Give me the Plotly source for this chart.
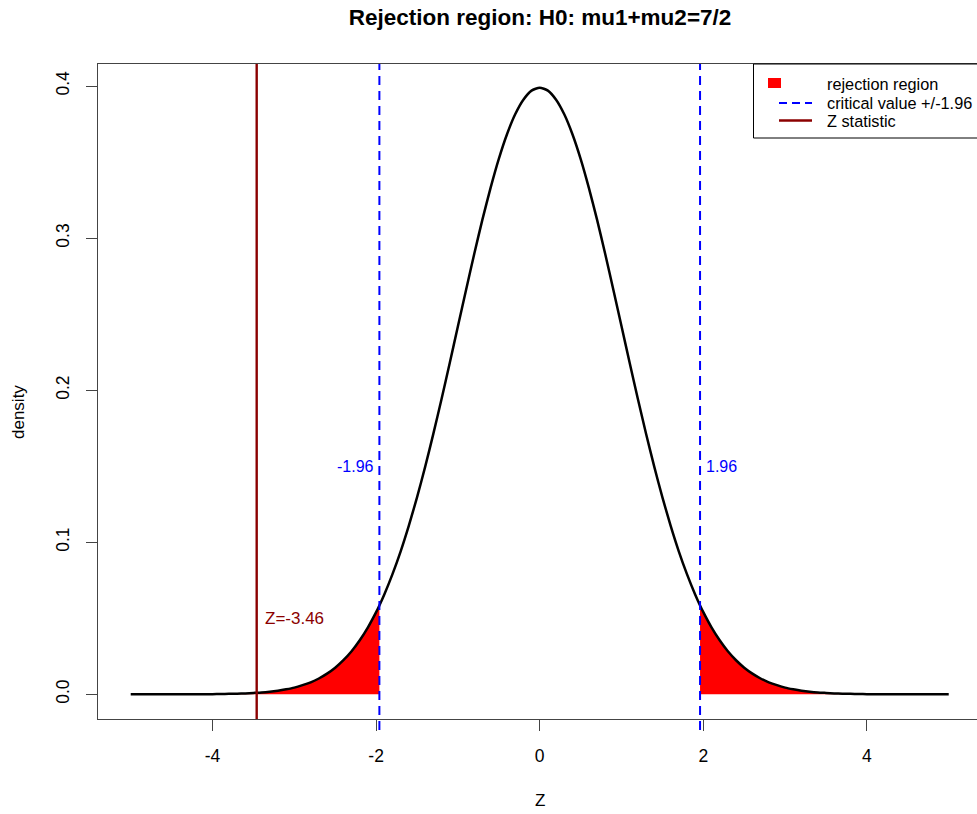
import plotly.graph_objects as go

# ---- data ----
z_grid = [-5.0, -4.9, -4.8, -4.7, -4.6, -4.5, -4.4, -4.3, -4.2, -4.1,
          -4.0, -3.9, -3.8, -3.7, -3.6, -3.5, -3.4, -3.3, -3.2, -3.1,
          -3.0, -2.9, -2.8, -2.7, -2.6, -2.5, -2.4, -2.3, -2.2, -2.1,
          -2.0, -1.96, -1.9, -1.8, -1.7, -1.6, -1.5, -1.4, -1.3, -1.2, -1.1,
          -1.0, -0.9, -0.8, -0.7, -0.6, -0.5, -0.4, -0.3, -0.2, -0.1,
          0.0,
          0.1, 0.2, 0.3, 0.4, 0.5, 0.6, 0.7, 0.8, 0.9, 1.0,
          1.1, 1.2, 1.3, 1.4, 1.5, 1.6, 1.7, 1.8, 1.9, 1.96, 2.0,
          2.1, 2.2, 2.3, 2.4, 2.5, 2.6, 2.7, 2.8, 2.9, 3.0,
          3.1, 3.2, 3.3, 3.4, 3.5, 3.6, 3.7, 3.8, 3.9, 4.0,
          4.1, 4.2, 4.3, 4.4, 4.5, 4.6, 4.7, 4.8, 4.9, 5.0]
density = [0.0000, 0.0000, 0.0000, 0.0000, 0.0000, 0.0000, 0.0000, 0.0000, 0.0001, 0.0001,
           0.0001, 0.0002, 0.0003, 0.0004, 0.0006, 0.0009, 0.0012, 0.0017, 0.0024, 0.0033,
           0.0044, 0.0060, 0.0079, 0.0104, 0.0136, 0.0175, 0.0224, 0.0283, 0.0355, 0.0440,
           0.0540, 0.0584, 0.0656, 0.0790, 0.0940, 0.1109, 0.1295, 0.1497, 0.1714, 0.1942, 0.2179,
           0.2420, 0.2661, 0.2897, 0.3123, 0.3332, 0.3521, 0.3683, 0.3814, 0.3910, 0.3970,
           0.3989,
           0.3970, 0.3910, 0.3814, 0.3683, 0.3521, 0.3332, 0.3123, 0.2897, 0.2661, 0.2420,
           0.2179, 0.1942, 0.1714, 0.1497, 0.1295, 0.1109, 0.0940, 0.0790, 0.0656, 0.0584, 0.0540,
           0.0440, 0.0355, 0.0283, 0.0224, 0.0175, 0.0136, 0.0104, 0.0079, 0.0060, 0.0044,
           0.0033, 0.0024, 0.0017, 0.0012, 0.0009, 0.0006, 0.0004, 0.0003, 0.0002, 0.0001,
           0.0001, 0.0001, 0.0000, 0.0000, 0.0000, 0.0000, 0.0000, 0.0000, 0.0000, 0.0000]
critical_value = 1.96
z_statistic = -3.46
shade_limit = 4.0
x_ticks = [-4, -2, 0, 2, 4]
x_tick_labels = ["-4", "-2", "0", "2", "4"]
y_ticks = [0.0, 0.1, 0.2, 0.3, 0.4]
y_tick_labels = ["0.0", "0.1", "0.2", "0.3", "0.4"]

FONT = "Liberation Sans, Arial, sans-serif"
RED = "#FF0000"
BLUE = "#0000FF"
DARKRED = "#8B0000"
AXC = "#444444"

# pixel layout
W, H = 977, 814
L, R, T, B = 98, 0, 64, 95
pw, ph = W - L - R, H - T - B


def px_x(p):
    return (p - L) / pw


def px_y(p):
    return (H - B - p) / ph


left_x = [x for x in z_grid if -shade_limit <= x <= -critical_value]
left_y = [d for x, d in zip(z_grid, density) if -shade_limit <= x <= -critical_value]
right_x = [x for x in z_grid if critical_value <= x <= shade_limit]
right_y = [d for x, d in zip(z_grid, density) if critical_value <= x <= shade_limit]

fig = go.Figure()
for xs, ys in [(left_x, left_y), (right_x, right_y)]:
    fig.add_trace(go.Scatter(x=xs, y=ys, mode="lines", fill="tozeroy",
                             fillcolor=RED, line=dict(width=0, color=RED, shape="spline", smoothing=0.6),
                             hoverinfo="skip", showlegend=False))
fig.add_trace(go.Scatter(x=z_grid, y=density, mode="lines",
                         line=dict(color="black", width=2.5, shape="spline", smoothing=0.6),
                         showlegend=False))

# vertical lines
for cv in [-critical_value, critical_value]:
    fig.add_shape(type="line", xref="x", yref="paper", x0=cv, x1=cv,
                  y0=px_y(730), y1=1, line=dict(color=BLUE, width=2, dash="9px,6px"))
fig.add_shape(type="line", xref="x", yref="paper", x0=z_statistic, x1=z_statistic,
              y0=0, y1=1, line=dict(color=DARKRED, width=2.4))

# text labels
fig.add_annotation(x=-critical_value, y=0.15, text="-1.96", showarrow=False,
                   xanchor="right", xshift=-3, font=dict(color=BLUE, size=16, family=FONT))
fig.add_annotation(x=critical_value, y=0.15, text="1.96", showarrow=False,
                   xanchor="left", xshift=4, font=dict(color=BLUE, size=16, family=FONT))
fig.add_annotation(x=z_statistic, y=0.05, text="Z=-3.46", showarrow=False,
                   xanchor="left", xshift=6, font=dict(color=DARKRED, size=17, family=FONT))

# axis titles
fig.add_annotation(xref="paper", yref="paper", x=px_x(18), y=px_y(412), text="density",
                   textangle=-90, showarrow=False, xanchor="center", yanchor="middle",
                   font=dict(size=17, family=FONT, color="black"))
fig.add_annotation(xref="paper", yref="paper", x=px_x(540), y=px_y(800), text="Z",
                   showarrow=False, xanchor="center", yanchor="middle",
                   font=dict(size=17, family=FONT, color="black"))

# manual legend
fig.add_shape(type="rect", xref="paper", yref="paper", x0=px_x(753.5), x1=px_x(990),
              y0=px_y(138), y1=px_y(64), line=dict(color="black", width=1), fillcolor="white")
fig.add_shape(type="rect", xref="paper", yref="paper", x0=px_x(768), x1=px_x(781),
              y0=px_y(88), y1=px_y(78), line=dict(width=0), fillcolor=RED)
fig.add_shape(type="line", xref="paper", yref="paper", x0=px_x(779), x1=px_x(812),
              y0=px_y(103), y1=px_y(103), line=dict(color=BLUE, width=2, dash="8px,5px"))
fig.add_shape(type="line", xref="paper", yref="paper", x0=px_x(779), x1=px_x(812),
              y0=px_y(120.5), y1=px_y(120.5), line=dict(color=DARKRED, width=2.4))
for txt, yy in [("rejection region", 84), ("critical value +/-1.96", 103), ("Z statistic", 121)]:
    fig.add_annotation(xref="paper", yref="paper", x=px_x(825), y=px_y(yy), text=txt,
                       showarrow=False, xanchor="left", yanchor="middle",
                       font=dict(size=16.3, family=FONT, color="black"))

fig.update_layout(
    width=W, height=H,
    margin=dict(l=L, r=R, t=T, b=B),
    plot_bgcolor="white", paper_bgcolor="white",
    title=dict(text="<b>Rejection region: H0: mu1+mu2=7/2</b>", x=540 / W, xanchor="center",
               y=1 - 17 / H, yanchor="middle", font=dict(size=22.5, family=FONT, color="black")),
    xaxis=dict(range=[-5.4, -5.4 + pw / 81.8], tickvals=x_ticks, ticktext=x_tick_labels,
               ticks="outside", ticklen=11,
               tickcolor=AXC, showline=True, linecolor=AXC, linewidth=1, mirror=True,
               showgrid=False, zeroline=False, tickfont=dict(size=17.5, family=FONT, color="black"),
               ticklabelstandoff=10),
    yaxis=dict(range=[-0.01624, 0.4145], tickvals=y_ticks, ticktext=y_tick_labels,
               ticks="outside", ticklen=11, tickcolor=AXC, showline=True, linecolor=AXC,
               linewidth=1, showgrid=False, zeroline=False, tickangle=-90,
               tickfont=dict(size=17.5, family=FONT, color="black"), ticklabelstandoff=10),
    showlegend=False,
)

fig.write_html("out.html", config={"displayModeBar": False},
               post_script="document.body.style.margin='0';document.body.style.overflow='hidden';")
